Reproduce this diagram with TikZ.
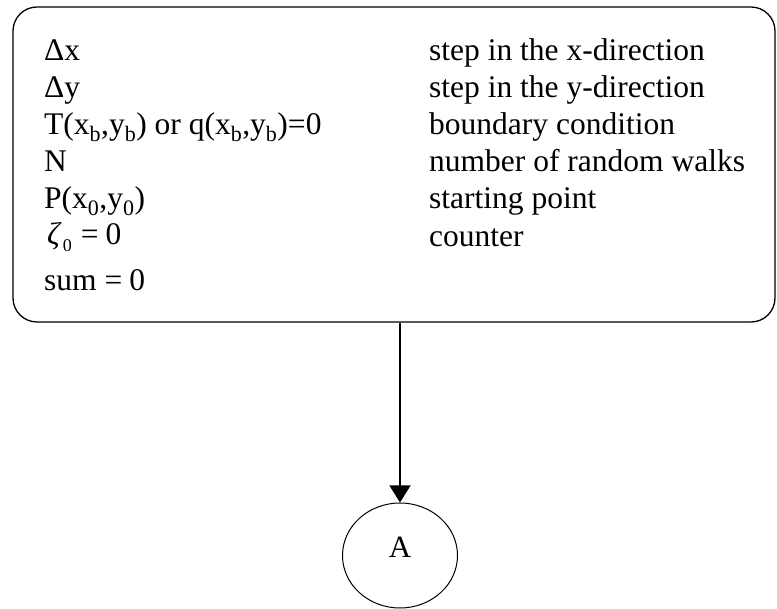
\documentclass[tikz,border=0pt]{standalone}
\usepackage{fontspec}
\setmainfont{Liberation Serif}
\usetikzlibrary{arrows.meta,shapes.geometric}
\begin{document}
\begin{tikzpicture}[x=1pt, y=-1pt,
  lbl/.style={anchor=base west, inner sep=0pt, font=\fontsize{31.5}{37}\selectfont},
  initbox/.style={draw, line width=1.3pt, rounded corners=24pt, minimum width=762pt, minimum height=315pt, inner sep=0pt},
  conn/.style={draw, ellipse, line width=1pt, minimum width=115pt, minimum height=105pt, inner sep=0pt, text depth=17pt, font=\fontsize{31}{36}\selectfont}]
  \useasboundingbox (0,0) rectangle (777,609);
  \node[initbox] (init) at (394,164.5) {};
  \draw
    (44,61) node[lbl] (dx){Δx}
    (44,98) node[lbl] (dy){Δy}
    (44,135) node[lbl] (bc){T(x\textsubscript{b},y\textsubscript{b}) or q(x\textsubscript{b},y\textsubscript{b})=0}
    (44,172) node[lbl] (n){N}
    (44,209) node[lbl] (p){P(x\textsubscript{0},y\textsubscript{0})}
    (44,245) node[lbl] (zeta){\hspace{3pt}{\itshape ζ}\hspace{3pt}\raisebox{-7pt}{\fontsize{18}{18}\selectfont 0}\hspace{9pt}=\hspace{7pt}0}
    (44,291) node[lbl] (sum){sum\hspace{8pt}=\hspace{7pt}0};
  \draw
    (429,61) node[lbl] (dxtxt){step in the x-direction}
    (429,98) node[lbl] (dytxt){step in the y-direction}
    (429,135) node[lbl] (bctxt){boundary condition}
    (429,172) node[lbl] (ntxt){number of random walks}
    (429,209) node[lbl] (ptxt){starting point}
    (429,247) node[lbl] (zetatxt){counter};
  \node[conn] (A) at (400,555.5) {A};
  \draw[line width=1.3pt, -{Triangle[width=21pt,length=17pt]}] (init.south -| A.north) -- (A.north);
\end{tikzpicture}
\end{document}
